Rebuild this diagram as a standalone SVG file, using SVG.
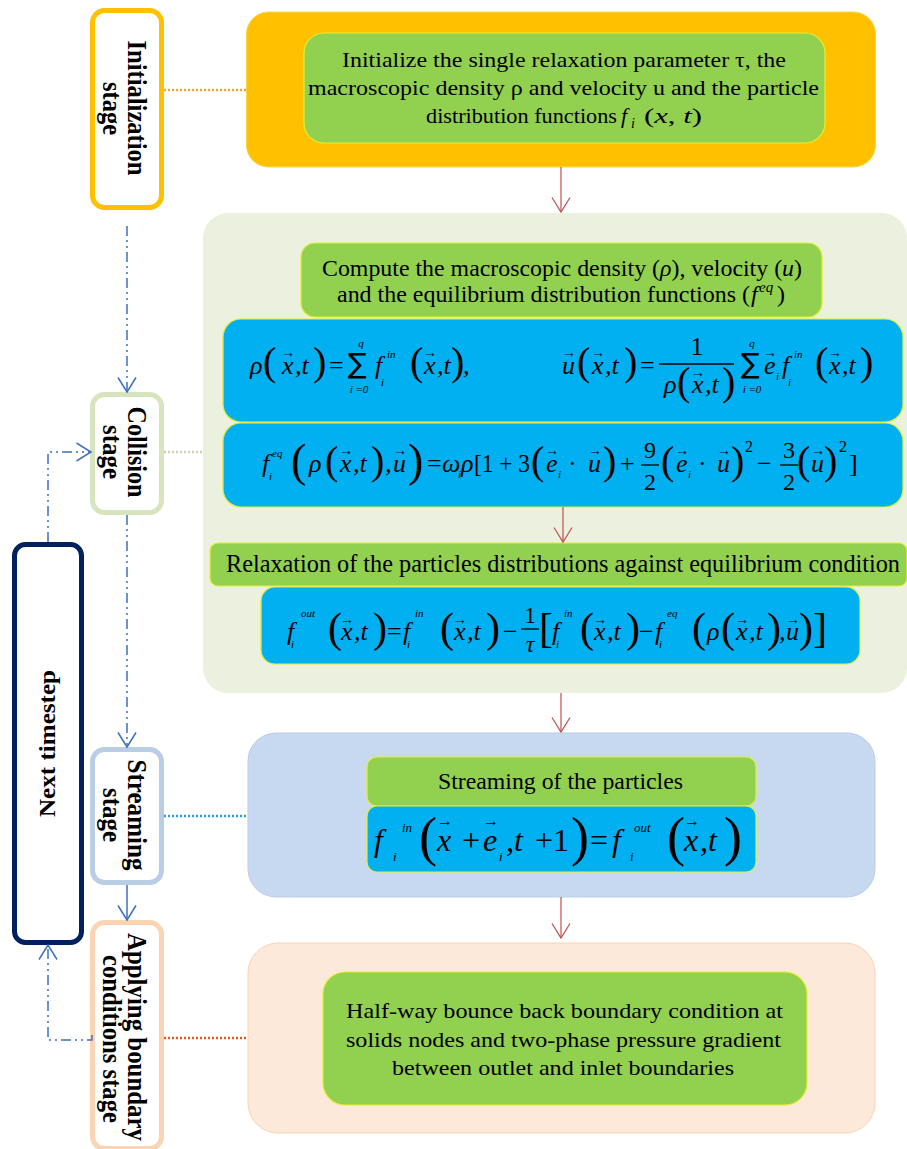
<svg xmlns="http://www.w3.org/2000/svg" width="907" height="1149" viewBox="0 0 907 1149">
<defs>
<style>
.t{font-family:"Liberation Serif","Times New Roman",serif;font-size:22px;fill:#000}
.lb{font-family:"Liberation Serif","Times New Roman",serif;font-size:28px;font-weight:bold;fill:#000}
.mi{font-family:"Liberation Serif","Times New Roman",serif;font-style:italic;font-size:26px;fill:#000}
.mu{font-family:"Liberation Serif","Times New Roman",serif;font-size:26px;fill:#000}
.sig{font-family:"DejaVu Sans",sans-serif;font-size:28px;fill:#000}
.bp{font-family:"Liberation Serif","Times New Roman",serif;font-size:40px;fill:#000}
.sm{font-family:"Liberation Serif","Times New Roman",serif;font-style:italic;font-size:11px;fill:#000}
.va{font-family:"Liberation Serif","DejaVu Serif",serif;font-size:14px;fill:#000;text-anchor:middle}
.fr{stroke:#000;stroke-width:1.3}
.stage{fill:#fff;stroke-width:5}
.green{fill:#92D050;stroke:#E4EE2C;stroke-width:1.2}
.blue{fill:#00B0F0;stroke:#E4EE2C;stroke-width:1.2}
.flow{fill:none;stroke:#3E70C0;stroke-width:1.5;stroke-dasharray:10 4 2 4 2 4;marker-end:url(#ab)}
.red{fill:none;stroke:#C0504D;stroke-width:1.2;marker-end:url(#ar)}
.dot{fill:none;stroke-width:2.5;stroke-dasharray:2 2}
</style>
<marker id="ab" markerUnits="userSpaceOnUse" markerWidth="17" markerHeight="20" viewBox="0 0 17 20" refX="15.5" refY="10" orient="auto"><path d="M1,1 L15.5,10 L1,19" fill="none" stroke="#3E70C0" stroke-width="1.5"/></marker>
<marker id="ar" markerUnits="userSpaceOnUse" markerWidth="17" markerHeight="20" viewBox="0 0 17 20" refX="15.5" refY="10" orient="auto"><path d="M1,1 L15.5,10 L1,19" fill="none" stroke="#C0504D" stroke-width="1.2"/></marker>
</defs>
<rect width="907" height="1149" fill="#fff"/>

<g id="init-panel">
<rect x="246.5" y="12" width="629" height="155" rx="22" fill="#FFC000" stroke="#F5D84A" stroke-width="1"/>
<rect class="green" x="304" y="33" width="521" height="110" rx="20"/>
<text class="t" x="342" y="67" textLength="444" lengthAdjust="spacingAndGlyphs">Initialize the single relaxation parameter τ, the</text>
<text class="t" x="308" y="95" textLength="511" lengthAdjust="spacingAndGlyphs">macroscopic density ρ and velocity u and the particle</text>
<text class="t" x="426" y="123" textLength="191" lengthAdjust="spacingAndGlyphs">distribution functions</text>
<text class="t" x="621" y="123" style="font-style:italic">f</text>
<text class="t" x="631" y="128" style="font-style:italic;font-size:14px">i</text>
<text class="t" x="644" y="123" textLength="58" lengthAdjust="spacingAndGlyphs">(<tspan style="font-style:italic">x</tspan>, <tspan style="font-style:italic">t</tspan>)</text>
</g>

<g id="collision-panel">
<rect x="203" y="213" width="704" height="480" rx="25" fill="#EBF1DE"/>
<rect class="green" x="301" y="243" width="521" height="74" rx="14"/>
<text class="t" x="322" y="276" style="font-size:24px" textLength="480" lengthAdjust="spacingAndGlyphs">Compute the macroscopic density (<tspan style="font-style:italic">ρ</tspan>), velocity (<tspan style="font-style:italic">u</tspan>)</text>
<text class="t" x="337" y="302" style="font-size:24px" textLength="413" lengthAdjust="spacingAndGlyphs">and the equilibrium distribution functions (</text>
<text class="t" x="751" y="302" style="font-size:24px;font-style:italic">f</text>
<text class="t" x="759" y="292" style="font-size:15px;font-style:italic">eq</text>
<text class="t" x="777" y="302" style="font-size:24px">)</text>

<rect class="blue" x="223" y="319" width="680" height="103" rx="18"/>
<text class="mi" x="250" y="374">ρ</text>
<text class="bp" x="263" y="375">(</text>
<text class="mi" x="282" y="374">x</text><text class="va" x="288" y="357">→</text>
<text class="mi" x="295" y="374">,t</text>
<text class="bp" x="313" y="375">)</text>
<text class="mu" x="329" y="374">=</text>
<text class="sig" x="348" y="373">∑</text>
<text class="sm" x="361" y="347" text-anchor="middle">q</text>
<text class="sm" x="359" y="393" text-anchor="middle">i =0</text>
<text class="mi" x="375" y="374">f</text><text class="sm" x="381" y="386">i</text><text class="sm" x="387" y="358">in</text>
<text class="bp" x="410" y="375">(</text>
<text class="mi" x="424" y="374">x</text><text class="va" x="430" y="357">→</text>
<text class="mi" x="437" y="374">,t</text>
<text class="bp" x="451" y="375">)</text>
<text class="mi" x="463" y="374">,</text>
<text class="mi" x="562" y="374">u</text><text class="va" x="569" y="357">→</text>
<text class="bp" x="577" y="375">(</text>
<text class="mi" x="592" y="374">x</text><text class="va" x="598" y="357">→</text>
<text class="mi" x="605" y="374">,t</text>
<text class="bp" x="624" y="375">)</text>
<text class="mu" x="640" y="374">=</text>
<text class="mu" x="697" y="355" text-anchor="middle">1</text>
<line class="fr" x1="659" y1="364" x2="734" y2="364"/>
<text class="mi" x="664" y="393">ρ</text>
<text class="bp" x="677" y="395">(</text>
<text class="mi" x="692" y="393">x</text><text class="va" x="698" y="377">→</text>
<text class="mi" x="705" y="393">,t</text>
<text class="bp" x="722" y="395">)</text>
<text class="sig" x="741" y="373">∑</text>
<text class="sm" x="752" y="347" text-anchor="middle">q</text>
<text class="sm" x="752" y="393" text-anchor="middle">i =0</text>
<text class="mi" x="764" y="374">e</text><text class="va" x="770" y="357">→</text><text class="sm" x="776" y="380">i</text>
<text class="mi" x="782" y="374">f</text><text class="sm" x="788" y="386">i</text><text class="sm" x="794" y="358">in</text>
<text class="bp" x="815" y="375">(</text>
<text class="mi" x="829" y="374">x</text><text class="va" x="835" y="357">→</text>
<text class="mi" x="842" y="374">,t</text>
<text class="bp" x="860" y="375">)</text>

<rect class="blue" x="223" y="423" width="680" height="84" rx="18"/>
<text class="mi" x="262" y="472">f</text><text class="sm" x="272" y="457">eq</text><text class="sm" x="269" y="480">i</text>
<text class="bp" x="291" y="476" style="font-size:46px">(</text>
<text class="mi" x="309" y="472">ρ</text>
<text class="bp" x="325" y="474">(</text>
<text class="mi" x="340" y="472">x</text><text class="va" x="346" y="455">→</text>
<text class="mi" x="353" y="472">,t</text>
<text class="bp" x="371" y="474">)</text>
<text class="mi" x="385" y="472">,</text>
<text class="mi" x="393" y="472">u</text><text class="va" x="400" y="455">→</text>
<text class="bp" x="408" y="476" style="font-size:46px">)</text>
<text class="mu" x="427" y="472">=</text>
<text class="mi" x="442" y="472">ω</text><text class="sm" x="458" y="478">i</text>
<text class="mi" x="461" y="472">ρ</text>
<text class="mu" x="474" y="472" textLength="56" lengthAdjust="spacingAndGlyphs">[1 + 3</text>
<text class="bp" x="531" y="474">(</text>
<text class="mi" x="546" y="472">e</text><text class="va" x="552" y="455">→</text><text class="sm" x="558" y="478">i</text>
<text class="mu" x="568" y="472">·</text>
<text class="mi" x="588" y="472">u</text><text class="va" x="595" y="455">→</text>
<text class="bp" x="603" y="474">)</text>
<text class="mu" x="620" y="472">+</text>
<text class="mu" x="650" y="458" style="font-size:24px" text-anchor="middle">9</text>
<line class="fr" x1="641" y1="465" x2="659" y2="465"/>
<text class="mu" x="650" y="490" style="font-size:24px" text-anchor="middle">2</text>
<text class="bp" x="661" y="474">(</text>
<text class="mi" x="676" y="472">e</text><text class="va" x="682" y="455">→</text><text class="sm" x="688" y="478">i</text>
<text class="mu" x="698" y="472">·</text>
<text class="mi" x="717" y="472">u</text><text class="va" x="724" y="455">→</text>
<text class="bp" x="731" y="474">)</text>
<text class="mu" x="745" y="452" style="font-size:16px">2</text>
<text class="mu" x="757" y="472">−</text>
<text class="mu" x="789" y="458" style="font-size:24px" text-anchor="middle">3</text>
<line class="fr" x1="780" y1="465" x2="798" y2="465"/>
<text class="mu" x="789" y="490" style="font-size:24px" text-anchor="middle">2</text>
<text class="bp" x="797" y="474">(</text>
<text class="mi" x="811" y="472">u</text><text class="va" x="818" y="455">→</text>
<text class="bp" x="824" y="474">)</text>
<text class="mu" x="839" y="452" style="font-size:16px">2</text>
<text class="mu" x="849" y="472">]</text>

<rect class="green" x="210" y="543" width="697" height="43" rx="8"/>
<text class="t" x="226" y="572" style="font-size:25px" textLength="674" lengthAdjust="spacingAndGlyphs">Relaxation of the particles distributions against equilibrium condition</text>

<rect class="blue" x="261" y="587" width="599" height="77" rx="14"/>
<text class="mi" x="287" y="640">f</text><text class="sm" x="301" y="617">out</text><text class="sm" x="291" y="648">i</text>
<text class="bp" x="328" y="642" style="font-size:42px">(</text>
<text class="mi" x="341" y="640">x</text><text class="va" x="347" y="624">→</text>
<text class="mi" x="354" y="640">,t</text>
<text class="bp" x="373" y="642" style="font-size:42px">)</text>
<text class="mu" x="387" y="640">=</text>
<text class="mi" x="403" y="640">f</text><text class="sm" x="415" y="617">in</text><text class="sm" x="407" y="648">i</text>
<text class="bp" x="440" y="642" style="font-size:42px">(</text>
<text class="mi" x="454" y="640">x</text><text class="va" x="460" y="624">→</text>
<text class="mi" x="467" y="640">,t</text>
<text class="bp" x="486" y="642" style="font-size:42px">)</text>
<text class="mu" x="503" y="640">−</text>
<text class="mu" x="530" y="623" style="font-size:24px" text-anchor="middle">1</text>
<line class="fr" x1="521" y1="629" x2="539" y2="629"/>
<text class="mi" x="530" y="652" style="font-size:24px" text-anchor="middle">τ</text>
<text class="bp" x="539" y="642" style="font-size:42px">[</text>
<text class="mi" x="552" y="640">f</text><text class="sm" x="564" y="617">in</text><text class="sm" x="556" y="648">i</text>
<text class="bp" x="580" y="642" style="font-size:42px">(</text>
<text class="mi" x="594" y="640">x</text><text class="va" x="600" y="624">→</text>
<text class="mi" x="607" y="640">,t</text>
<text class="bp" x="626" y="642" style="font-size:42px">)</text>
<text class="mu" x="639" y="640">−</text>
<text class="mi" x="655" y="640">f</text><text class="sm" x="667" y="617">eq</text><text class="sm" x="659" y="648">i</text>
<text class="bp" x="692" y="642" style="font-size:42px">(</text>
<text class="mi" x="707" y="640">ρ</text>
<text class="bp" x="721" y="642" style="font-size:42px">(</text>
<text class="mi" x="736" y="640">x</text><text class="va" x="742" y="624">→</text>
<text class="mi" x="749" y="640">,t</text>
<text class="bp" x="767" y="642" style="font-size:42px">)</text>
<text class="mi" x="779" y="640">,</text>
<text class="mi" x="786" y="640">u</text><text class="va" x="793" y="624">→</text>
<text class="bp" x="799" y="642" style="font-size:42px">)</text>
<text class="bp" x="813" y="642" style="font-size:42px">]</text>
</g>

<g id="streaming-panel">
<rect x="248" y="733" width="627" height="164" rx="28" fill="#C6D9F1" stroke="#B9CDE5" stroke-width="1"/>
<rect class="green" x="367" y="757" width="389" height="49" rx="10"/>
<text class="t" x="438" y="789" style="font-size:23px" textLength="245" lengthAdjust="spacingAndGlyphs">Streaming of the particles</text>
<rect class="blue" x="367" y="806" width="389" height="66" rx="10"/>
<text class="mi" x="374" y="851" style="font-size:32px">f</text>
<text class="sm" x="402" y="832" style="font-size:13px">in</text>
<text class="sm" x="393" y="861" style="font-size:13px">i</text>
<text class="bp" x="419" y="855" style="font-size:54px">(</text>
<text class="mi" x="437" y="851" style="font-size:32px">x</text><text class="va" x="445" y="826" style="font-size:16px">→</text>
<text class="mu" x="462" y="851" style="font-size:32px">+</text>
<text class="mi" x="483" y="851" style="font-size:32px">e</text><text class="va" x="491" y="826" style="font-size:16px">→</text>
<text class="sm" x="499" y="861" style="font-size:13px">i</text>
<text class="mi" x="506" y="851" style="font-size:32px">,t</text>
<text class="mu" x="535" y="851" style="font-size:32px">+1</text>
<text class="bp" x="571" y="855" style="font-size:54px">)</text>
<text class="mu" x="590" y="851" style="font-size:32px">=</text>
<text class="mi" x="612" y="851" style="font-size:32px">f</text>
<text class="sm" x="634" y="832" style="font-size:13px">out</text>
<text class="sm" x="630" y="861" style="font-size:13px">i</text>
<text class="bp" x="667" y="855" style="font-size:54px">(</text>
<text class="mi" x="684" y="851" style="font-size:32px">x</text><text class="va" x="692" y="826" style="font-size:16px">→</text>
<text class="mi" x="700" y="851" style="font-size:32px">,t</text>
<text class="bp" x="724" y="855" style="font-size:54px">)</text>
</g>

<g id="boundary-panel">
<rect x="248" y="943" width="627" height="190" rx="30" fill="#FDE9D9" stroke="#FAD3B4" stroke-width="1"/>
<rect class="green" x="323" y="972" width="484" height="133" rx="22"/>
<text class="t" x="346" y="1018" textLength="437" lengthAdjust="spacingAndGlyphs">Half-way bounce back boundary condition at</text>
<text class="t" x="346" y="1047" textLength="435" lengthAdjust="spacingAndGlyphs">solids nodes and two-phase pressure gradient</text>
<text class="t" x="392" y="1075" textLength="342" lengthAdjust="spacingAndGlyphs">between outlet and inlet boundaries</text>
</g>

<g id="init-stage">
<rect class="stage" x="92.5" y="10.5" width="69" height="197" rx="12" stroke="#FFC000"/>
<text class="lb" transform="translate(128,108) rotate(90)" x="-67.5" y="0" textLength="135" lengthAdjust="spacingAndGlyphs">Initialization</text>
<text class="lb" transform="translate(103,108.5) rotate(90)" x="-26.5" y="0" textLength="53" lengthAdjust="spacingAndGlyphs">stage</text>
</g>
<g id="collision-stage">
<rect class="stage" x="92.5" y="394.5" width="69" height="118" rx="12" stroke="#D7E4BD"/>
<text class="lb" transform="translate(128,452) rotate(90)" x="-45.5" y="0" textLength="91" lengthAdjust="spacingAndGlyphs">Collision</text>
<text class="lb" transform="translate(103,452) rotate(90)" x="-27" y="0" textLength="54" lengthAdjust="spacingAndGlyphs">stage</text>
</g>
<g id="next-timestep">
<rect class="stage" x="14.5" y="544.5" width="67" height="398" rx="11" stroke="#002060"/>
<text class="lb" style="font-size:23px" transform="translate(55,743.5) rotate(-90)" x="-73.5" y="0" textLength="147" lengthAdjust="spacingAndGlyphs">Next timestep</text>
</g>
<g id="streaming-stage">
<rect class="stage" x="92.5" y="749.5" width="69" height="133" rx="12" stroke="#B9CDE5"/>
<text class="lb" transform="translate(128,815) rotate(90)" x="-55.5" y="0" textLength="111" lengthAdjust="spacingAndGlyphs">Streaming</text>
<text class="lb" transform="translate(103,815) rotate(90)" x="-27" y="0" textLength="54" lengthAdjust="spacingAndGlyphs">stage</text>
</g>
<g id="boundary-stage">
<rect class="stage" x="92.5" y="922.5" width="69" height="226" rx="12" stroke="#FBD4B4"/>
<text class="lb" transform="translate(128,1037) rotate(90)" x="-104" y="0" textLength="208" lengthAdjust="spacingAndGlyphs">Applying boundary</text>
<text class="lb" transform="translate(103,1039) rotate(90)" x="-84" y="0" textLength="168" lengthAdjust="spacingAndGlyphs">conditions stage</text>
</g>

<g id="connectors">
<path class="dot" d="M164,90 H247" stroke="#F5A623"/>
<path class="dot" d="M164,452 H203" stroke="#D6CDAE"/>
<path class="dot" d="M164,816 H248" stroke="#1FA2E8"/>
<path class="dot" d="M164,1038 H248" stroke="#E2581E"/>
<path class="flow" d="M127,226 V392"/>
<path class="flow" d="M127,515 V747"/>
<path d="M127,885 V920" fill="none" stroke="#3E70C0" stroke-width="1.5" marker-end="url(#ab)"/>
<path class="flow" d="M48,542 V452 H91"/>
<path class="flow" d="M92,1035 V1040 H48 V945"/>
<path class="red" d="M561,167 V212"/>
<path class="red" d="M563,507 V542"/>
<path class="red" d="M561,693 V732"/>
<path class="red" d="M561,897 V938"/>
</g>
</svg>
